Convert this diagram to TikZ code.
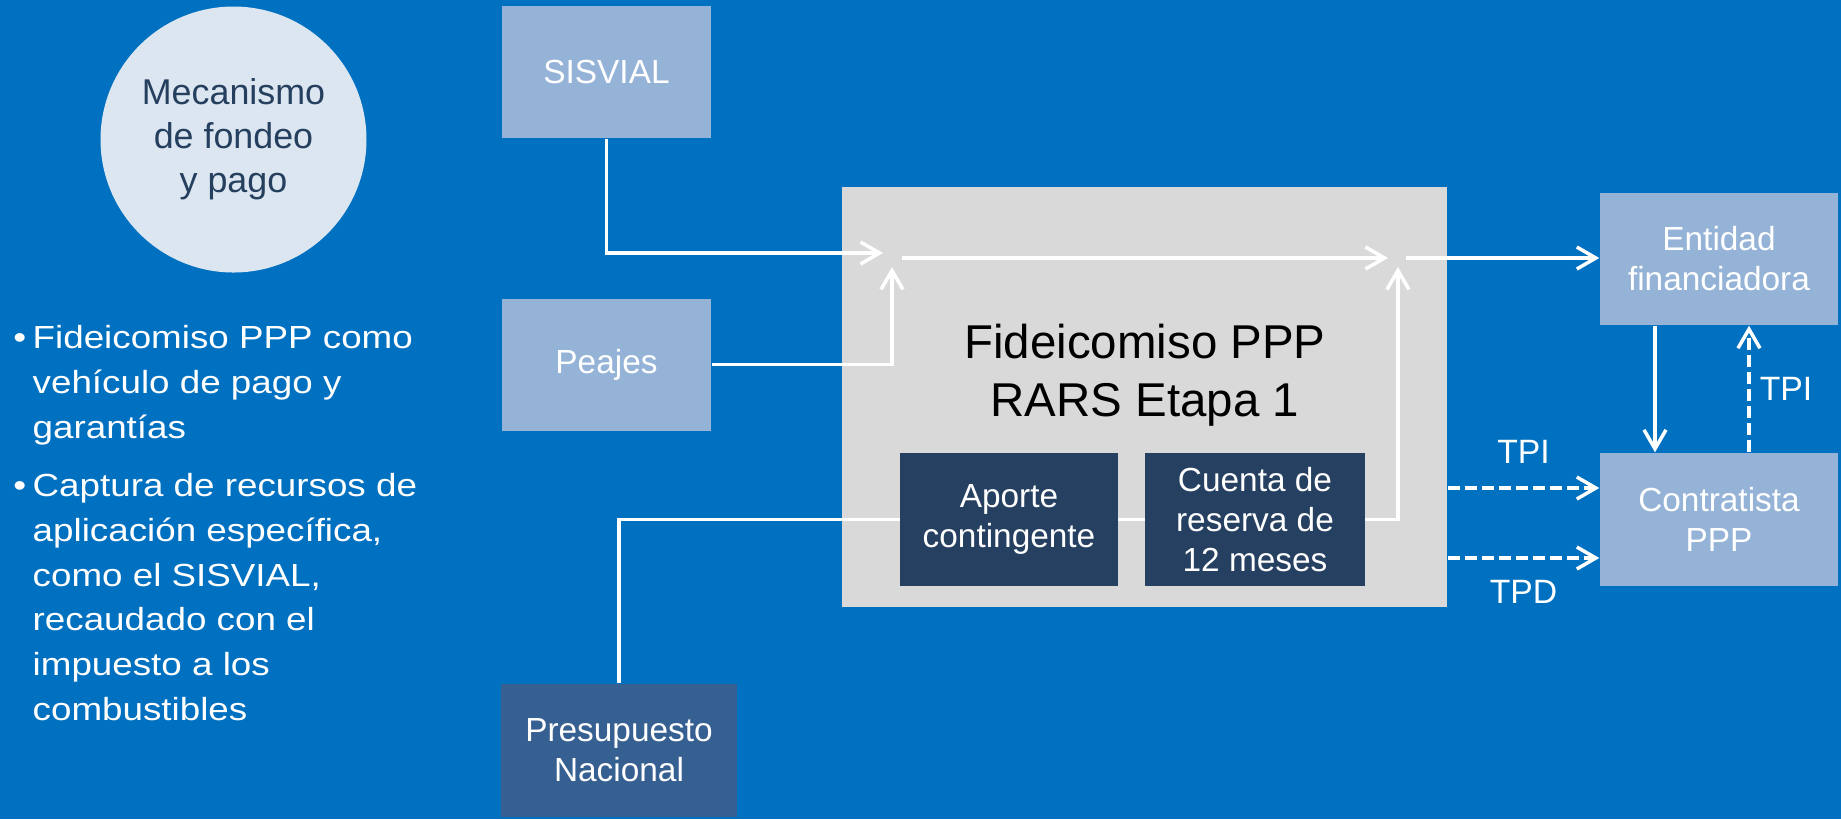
\documentclass[tikz,border=0pt]{standalone}
\usepackage{fontspec}
\setmainfont{Liberation Sans}
\newfontfamily\widesans[FakeStretch=1.15]{Liberation Sans}
\usetikzlibrary{arrows.meta}
\definecolor{bgblue}{HTML}{0070C0}
\definecolor{lightbox}{HTML}{95B3D7}
\definecolor{navybox}{HTML}{254061}
\definecolor{steelbox}{HTML}{376092}
\definecolor{fidgray}{HTML}{D9D9D9}
\definecolor{circfill}{HTML}{DCE6F0}
\definecolor{circtext}{HTML}{253F5F}

\begin{document}
\begin{tikzpicture}[x=1mm,y=1mm,
    box/.style={fill=lightbox, text=white, minimum width=20.9mm, minimum height=13.2mm,
        inner sep=0pt, align=center, font=\fontsize{9.5}{11.4}\selectfont},
    flow/.style={draw=white, line width=0.35mm, -{Straight Barb[length=1.9mm,width=2.2mm]}},
    lbl/.style={text=white, font=\fontsize{9.6}{11.5}\selectfont}]
    \useasboundingbox (0,0) rectangle (184.1,-81.9);
    \fill[bgblue] (0,0) rectangle (184.1,-81.9);

    \node[circle, fill=circfill, text=circtext, minimum size=26.6mm, inner sep=0pt, align=center,
        font=\fontsize{10.2}{12.5}\selectfont] (mecanismo) at (23.35,-13.95) {Mecanismo\\de fondeo\\y pago};
    \node[anchor=north west, inner sep=0pt, align=left, text=white,
        font=\widesans\fontsize{9.1}{12.7}\selectfont] (item1) at (3.2,-32.5)
        {\llap{\textbullet\hspace{0.65mm}}Fideicomiso PPP como\\vehículo de pago y\\garantías};
    \node[anchor=north west, inner sep=0pt, align=left, text=white,
        font=\widesans\fontsize{9.1}{12.7}\selectfont] (item2) at (3.2,-47.3)
        {\llap{\textbullet\hspace{0.65mm}}Captura de recursos de\\aplicación específica,\\como el SISVIAL,\\recaudado con el\\impuesto a los\\combustibles};

    \node[fill=fidgray, minimum width=60.5mm, minimum height=42mm, inner sep=0pt] (fide) at (114.45,-39.7) {};
    \node[align=center, font=\fontsize{13.5}{16.5}\selectfont] (titulo) at (114.5,-37.56) {Fideicomiso PPP\\RARS Etapa 1};

    \node[box] (sisvial) at (60.65,-7.2) {SISVIAL};
    \node[box] (peajes) at (60.65,-36.45) {Peajes};
    \node[box, fill=steelbox, minimum width=23.6mm, minimum height=13.3mm] (presupuesto) at (61.9,-75.05) {Presupuesto\\Nacional};

    \coordinate (bend) at (139.8,-51.95);
    \coordinate (inA) at (88.3,-25.3);
    \coordinate (inB) at (89.2,-26.7);
    \coordinate (midA) at (90.2,-25.8);
    \coordinate (midB) at (138.8,-25.8);
    \coordinate (outA) at (140.6,-25.8);
    \coordinate (outB) at (139.8,-26.7);
    \draw[flow] (presupuesto.north) |- (bend) -- (outB);

    \node[box, fill=navybox, minimum width=21.8mm, minimum height=13.3mm] (aporte) at (100.9,-51.95) {Aporte\\contingente};
    \node[box, fill=navybox, minimum width=22mm, minimum height=13.3mm] (cuenta) at (125.5,-51.95) {Cuenta de\\reserva de\\12 meses};
    \node[box, minimum width=23.8mm] (entidad) at (171.9,-25.9) {Entidad\\financiadora};
    \node[box, minimum width=23.8mm, minimum height=13.3mm] (contratista) at (171.9,-51.95) {Contratista\\PPP};

    \draw[flow] (sisvial.south) |- (inA);
    \draw[flow] (peajes.east) -| (inB);
    \draw[flow] (midA) -- (midB);
    \draw[flow] (outA) -- (outA -| entidad.west);
    \draw[flow, dash pattern=on 1.2mm off 0.5mm] ([yshift=3.15mm]contratista.west -| fide.east) -- ([yshift=3.15mm]contratista.west)
        node[lbl, midway, above=1.1mm] {TPI};
    \draw[flow, dash pattern=on 1.2mm off 0.5mm] ([yshift=-3.85mm]contratista.west -| fide.east) -- ([yshift=-3.85mm]contratista.west)
        node[lbl, midway, below=0.9mm] {TPD};
    \draw[flow] ([xshift=-6.4mm]entidad.south) -- ([xshift=-6.4mm]contratista.north);
    \draw[flow, dash pattern=on 1.2mm off 0.5mm] ([xshift=3mm]contratista.north) -- ([xshift=3mm]entidad.south)
        node[lbl, midway, right, inner sep=0.9mm] {TPI};
\end{tikzpicture}
\end{document}
